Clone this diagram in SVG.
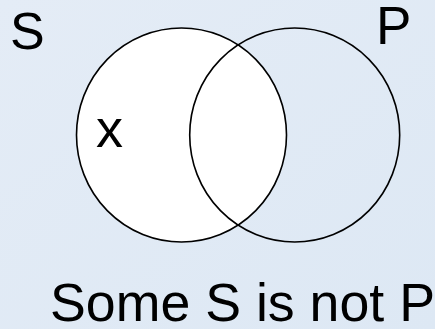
<svg xmlns="http://www.w3.org/2000/svg" width="435" height="329" viewBox="0 0 435 329">
<style>
.lbl{font-family:"Liberation Sans",Arial,sans-serif;fill:#000}
.c{stroke:#000;stroke-width:1.6}
</style>
<defs>
<linearGradient id="bg" x1="0" y1="0" x2="1" y2="1">
<stop offset="0" stop-color="#e4ecf6"/>
<stop offset="1" stop-color="#dde8f4"/>
</linearGradient>
</defs>
<rect width="435" height="329" fill="url(#bg)"/>
<g id="circle-S">
<ellipse class="c" cx="181.5" cy="135" rx="105" ry="107" fill="#fff"/>
</g>
<g id="circle-P">
<ellipse class="c" cx="294.7" cy="135" rx="105" ry="107" fill="none"/>
</g>
<g id="connectors"></g>
<g id="label-S"><text class="lbl" x="10" y="48.5" font-size="52">S</text></g>
<g id="label-P"><text class="lbl" x="376" y="44" font-size="53">P</text></g>
<g id="mark-x"><text class="lbl" x="96" y="147" font-size="54">x</text></g>
<g id="caption"><text class="lbl" x="50" y="321" font-size="53.7">Some S is not P</text></g>
</svg>
